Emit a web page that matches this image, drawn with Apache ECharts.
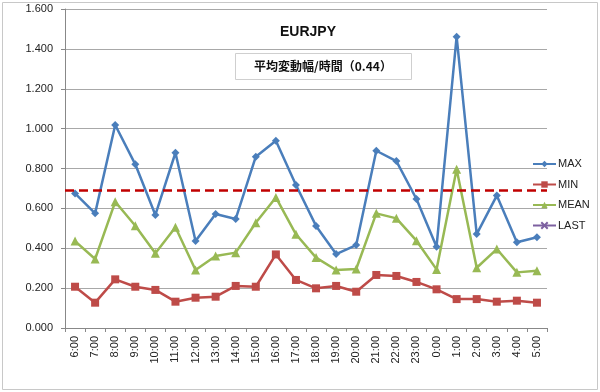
<!DOCTYPE html>
<html><head><meta charset="utf-8">
<script src="https://cdn.jsdelivr.net/npm/echarts@6/dist/echarts.min.js"></script>
<style>html,body{margin:0;padding:0;background:#fff}#c{width:600px;height:392px}</style>
</head><body><div id="c"></div>
<script>
const categories = ['6:00','7:00','8:00','9:00','10:00','11:00','12:00','13:00','14:00','15:00','16:00','17:00','18:00','19:00','20:00','21:00','22:00','23:00','0:00','1:00','2:00','3:00','4:00','5:00'];
const maxValues  = [0.675,0.575,1.018,0.821,0.567,0.879,0.436,0.572,0.547,0.859,0.939,0.717,0.512,0.371,0.416,0.889,0.837,0.647,0.408,1.461,0.471,0.664,0.430,0.455];
const minValues  = [0.207,0.127,0.244,0.207,0.191,0.132,0.152,0.157,0.211,0.207,0.369,0.241,0.199,0.211,0.182,0.266,0.261,0.231,0.194,0.145,0.145,0.132,0.137,0.127];
const meanValues = [0.436,0.346,0.633,0.513,0.375,0.505,0.291,0.361,0.378,0.528,0.655,0.470,0.353,0.291,0.296,0.575,0.550,0.438,0.294,0.796,0.302,0.396,0.279,0.287];
const lastValues = [];
const averageLine = 0.69;
const yTicks = {min: 0, max: 1.6, interval: 0.2};
const titleText = 'EURJPY';
const subtitleText = '平均変動幅/時間（0.44）';

const chart = echarts.init(document.getElementById('c'), null, {renderer: 'canvas'});
const font = '"Liberation Sans", Arial, sans-serif';
chart.setOption({
  animation: false,
  backgroundColor: '#ffffff',
  textStyle: {fontFamily: font},
  graphic: [
    {type: 'rect', shape: {x: 2.5, y: 2.5, width: 595, height: 387}, style: {fill: 'none', stroke: '#c8c8c8', lineWidth: 1}, silent: true, z: -1},
    {type: 'rect', shape: {x: 235.5, y: 53.5, width: 176, height: 26}, style: {fill: '#ffffff', stroke: '#cfcfcf', lineWidth: 1}, z: 10},
    {type: 'text', x: 323, y: 66.5, style: {text: subtitleText, fill: '#111', font: 'bold 12px "Noto Sans CJK JP", sans-serif', textAlign: 'center', textVerticalAlign: 'middle'}, z: 11},
    {type: 'text', x: 308, y: 32, style: {text: titleText, fill: '#111', font: 'bold 14px ' + font, textAlign: 'center', textVerticalAlign: 'middle'}, z: 11}
  ],
  grid: {left: 65, right: 53, top: 9, bottom: 64, containLabel: false},
  legend: {
    orient: 'vertical', left: 527, top: 152,
    itemWidth: 23, itemHeight: 8, itemGap: 6.5,
    textStyle: {fontSize: 11, lineHeight: 14, color: '#222', fontFamily: font, padding: [0,0,0,-3]},
    data: ['MAX','MIN','MEAN','LAST']
  },
  xAxis: {
    type: 'category', data: categories, boundaryGap: true,
    axisLine: {lineStyle: {color: '#888', width: 1}},
    axisTick: {show: true, alignWithLabel: false, length: 4, lineStyle: {color: '#888'}},
    axisLabel: {rotate: 90, fontSize: 11, color: '#222', margin: 8, interval: 0, fontFamily: font}
  },
  yAxis: {
    type: 'value', min: yTicks.min, max: yTicks.max, interval: yTicks.interval,
    axisLine: {show: true, lineStyle: {color: '#888'}},
    axisTick: {show: true, length: 4, lineStyle: {color: '#888'}},
    splitLine: {lineStyle: {color: '#a8a8a8', width: 1}},
    axisLabel: {fontSize: 11, color: '#222', margin: 12, formatter: v => v.toFixed(3), fontFamily: font}
  },
  series: [
    {name: 'MAX', type: 'line', data: maxValues, symbol: 'diamond', symbolSize: 8,
     itemStyle: {color: '#4A7EBB'}, lineStyle: {width: 2.5, color: '#4A7EBB'}, z: 3},
    {name: 'MIN', type: 'line', data: minValues, symbol: 'rect', symbolSize: 8,
     itemStyle: {color: '#BE4B48'}, lineStyle: {width: 2.5, color: '#BE4B48'}, z: 3,
     markLine: {silent: true, symbol: 'none', label: {show: false},
       lineStyle: {color: '#C00000', type: [9, 5], width: 2.5},
       data: [{yAxis: averageLine}]}},
    {name: 'MEAN', type: 'line', data: meanValues, symbol: 'triangle', symbolSize: 9,
     itemStyle: {color: '#98B954'}, lineStyle: {width: 2.5, color: '#98B954'}, z: 3},
    {name: 'LAST', type: 'line', data: lastValues, symbol: 'path://M0,0 L10,10 M10,0 L0,10', symbolSize: 8,
     itemStyle: {color: '#7D60A0', borderColor: '#7D60A0', borderWidth: 1.5}, lineStyle: {width: 2.5, color: '#7D60A0'}, z: 3}
  ]
});
</script>
</body></html>
